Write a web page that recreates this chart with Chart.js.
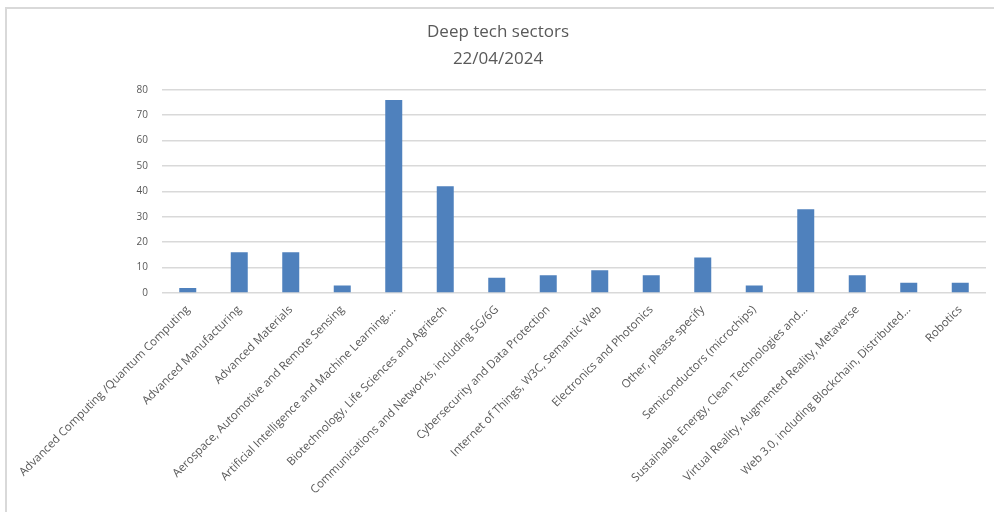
<!DOCTYPE html>
<html>
<head>
<meta charset="utf-8">
<script src="https://cdn.jsdelivr.net/npm/chart.js@4/dist/chart.umd.min.js"></script>
<style>
  html, body { margin: 0; padding: 0; background: #fff; }
  #wrap { position: relative; width: 994px; height: 512px; }
</style>
</head>
<body>
<div id="wrap"><canvas id="sectors-chart"></canvas></div>
<script>
// Données du graphique
const titleLines = ["Deep tech sectors", "22/04/2024"];
const sectors = [
  "Advanced Computing /Quantum Computing",
  "Advanced Manufacturing",
  "Advanced Materials",
  "Aerospace, Automotive and Remote Sensing",
  "Artificial Intelligence and Machine Learning,...",
  "Biotechnology, Life Sciences and Agritech",
  "Communications and Networks, including 5G/6G",
  "Cybersecurity and Data Protection",
  "Internet of Things, W3C, Semantic Web",
  "Electronics and Photonics",
  "Other, please specify",
  "Semiconductors (microchips)",
  "Sustainable Energy, Clean Technologies and...",
  "Virtual Reality, Augmented Reality, Metaverse",
  "Web 3.0, including Blockchain, Distributed...",
  "Robotics",
];
const counts = [2, 16, 16, 3, 76, 42, 6, 7, 9, 7, 14, 3, 33, 7, 4, 4];
const yTicks = [0, 10, 20, 30, 40, 50, 60, 70, 80];

const textColor = "#595959";
const fontFamily = "'Open Sans', 'Noto Sans', sans-serif";

// Cadre gris clair autour du graphique
const framePlugin = {
  id: "frame",
  beforeDraw(chart) {
    const ctx = chart.ctx;
    ctx.save();
    ctx.strokeStyle = "#d9d9d9";
    ctx.lineWidth = 2;
    ctx.beginPath();
    ctx.moveTo(6, chart.height + 5);
    ctx.lineTo(6, 8);
    ctx.lineTo(chart.width + 5, 8);
    ctx.stroke();
    ctx.restore();
  },
};

const ctx = document.getElementById("sectors-chart").getContext("2d");

new Chart(ctx, {
  type: "bar",
  data: {
    labels: sectors,
    datasets: [
      {
        label: "Deep tech sectors",
        data: counts,
        backgroundColor: "#4f81bd",
        borderWidth: 0,
        categoryPercentage: 1,
        barPercentage: 0.33,
      },
    ],
  },
  options: {
    responsive: true,
    maintainAspectRatio: false,
    animation: false,
    layout: {
      padding: { top: 19, left: 10, right: 8, bottom: 0 },
    },
    plugins: {
      legend: { display: false },
      tooltip: { enabled: false },
      title: {
        display: true,
        text: titleLines,
        color: textColor,
        font: { family: fontFamily, size: 17, weight: "normal", lineHeight: 1.58 },
        padding: { top: 0, bottom: 17 },
      },
    },
    scales: {
      x: {
        grid: { display: false },
        border: { display: false },
        ticks: {
          autoSkip: false,
          minRotation: 45,
          maxRotation: 45,
          color: textColor,
          font: { family: fontFamily, size: 11.5 },
          padding: 2,
        },
        afterFit(scale) {
          scale.height = 219;
        },
      },
      y: {
        min: 0,
        max: 80,
        afterBuildTicks(scale) {
          scale.ticks = yTicks.map((v) => ({ value: v }));
        },
        grid: {
          color: "#d9d9d9",
          lineWidth: 1.5,
          drawTicks: false,
        },
        border: { display: false },
        ticks: {
          color: textColor,
          font: { family: fontFamily, size: 10 },
          padding: 14,
        },
        afterFit(scale) {
          scale.width = 152;
        },
      },
    },
  },
  plugins: [framePlugin],
});
</script>
</body>
</html>
